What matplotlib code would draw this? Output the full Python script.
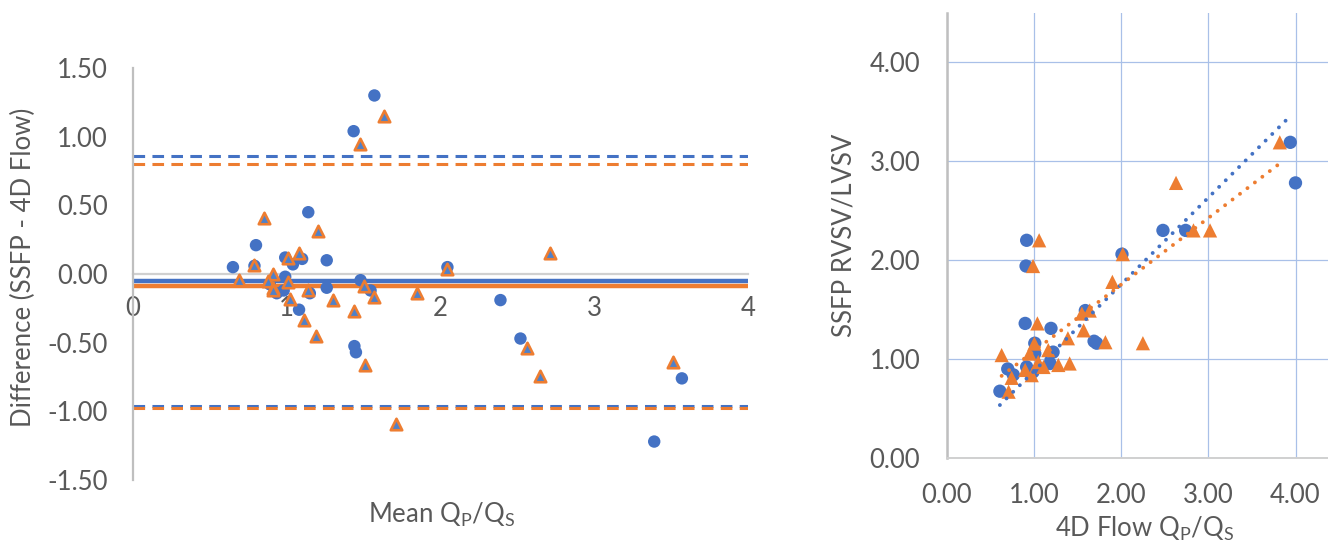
import matplotlib
matplotlib.use("Agg")
import matplotlib.pyplot as plt
import numpy as np

plt.rcParams['font.family'] = ['Lato', 'DejaVu Sans']
plt.rcParams['mathtext.fontset'] = 'custom'
plt.rcParams['mathtext.rm'] = 'Lato'

# ---------------- data: Bland-Altman (left) ----------------
blue_mean = [1.57, 1.435, 1.14, 0.80, 0.65, 0.79, 0.99, 1.04, 1.10, 1.26, 0.99, 0.89, 0.935,
             0.98, 1.15, 1.26, 1.48, 1.545, 1.08, 1.44, 1.45, 2.045, 2.39, 2.52, 3.57, 3.39]
blue_diff = [1.30, 1.04, 0.45, 0.21, 0.05, 0.06, 0.12, 0.07, 0.11, 0.10, -0.02, -0.075, -0.14,
             -0.12, -0.14, -0.10, -0.045, -0.12, -0.26, -0.525, -0.57, 0.05, -0.19, -0.47, -0.76, -1.22]
orange_mean = [1.635, 1.476, 0.85, 1.205, 0.79, 1.01, 1.08, 0.69, 0.91, 0.88, 1.01, 0.91, 0.91,
               1.02, 1.14, 1.30, 1.50, 1.57, 1.845, 1.44, 1.11, 1.19, 1.51, 2.045, 2.71, 2.56,
               2.65, 3.51, 1.71]
orange_diff = [1.15, 0.95, 0.41, 0.31, 0.065, 0.115, 0.15, -0.046, 0.0, -0.05, -0.06, -0.10, -0.12,
               -0.18, -0.12, -0.19, -0.09, -0.17, -0.14, -0.27, -0.335, -0.45, -0.66, 0.04, 0.155,
               -0.54, -0.74, -0.64, -1.09]
blue_bias, blue_upper, blue_lower = -0.05, 0.86, -0.96
orange_bias, orange_upper, orange_lower = -0.09, 0.80, -0.975
left_xticks = [0, 1, 2, 3, 4]
left_yticks = [-1.5, -1.0, -0.5, 0.0, 0.5, 1.0, 1.5]

# ---------------- data: correlation (right) ----------------
blue_4d = [0.917, 0.91, 2.01, 2.48, 2.74, 4.00, 3.94, 0.90, 1.196, 1.59, 1.69, 1.72, 1.01,
           1.01, 1.22, 0.70, 0.764, 0.917, 1.185, 0.99, 0.61]
blue_ssfp = [2.20, 1.94, 2.06, 2.30, 2.30, 2.78, 3.19, 1.36, 1.31, 1.49, 1.18, 1.16, 1.16,
             1.055, 1.07, 0.90, 0.84, 0.92, 0.955, 0.87, 0.675]
orange_4d = [2.63, 3.82, 1.06, 0.99, 2.02, 2.83, 3.02, 1.90, 1.55, 1.64, 1.57, 1.39, 1.82, 2.25,
             1.04, 1.005, 0.63, 0.95, 1.165, 1.05, 1.28, 1.41, 1.11, 0.90, 0.975, 0.745, 0.71]
orange_ssfp = [2.78, 3.19, 2.20, 1.94, 2.06, 2.30, 2.30, 1.78, 1.46, 1.49, 1.29, 1.21, 1.17, 1.16,
               1.36, 1.156, 1.04, 1.055, 1.09, 0.97, 0.94, 0.955, 0.92, 0.89, 0.837, 0.81, 0.67]
blue_fit = (0.877, 0.0)        # slope, intercept
orange_fit = (0.673, 0.406)
blue_fit_range = (0.61, 3.96)
orange_fit_range = (0.63, 3.80)
right_ticks = [0.0, 1.0, 2.0, 3.0, 4.0]

BLUE = '#4472C4'
ORANGE = '#ED7D31'
TRI_FILL = '#4F81C9'
GRAY = '#BFBFBF'
TXT = '#595959'
GRID = '#A9C0E8'
FS = 18.5

fig = plt.figure(figsize=(13.28, 5.44), dpi=100)

# ---------------- left panel ----------------
ax1 = fig.add_axes([133/1328, (544-480)/544, 615/1328, 412/544])
ax1.set_xlim(0, 4)
ax1.set_ylim(-1.5, 1.5)
for s in ['top', 'right']:
    ax1.spines[s].set_visible(False)
ax1.spines['left'].set_color(GRAY)
ax1.spines['left'].set_linewidth(1.6)
ax1.spines['bottom'].set_position(('data', 0))
ax1.spines['bottom'].set_color('#D0D0D0')
ax1.spines['bottom'].set_linewidth(1.6)
ax1.spines['bottom'].set_zorder(1)

ax1.axhline(blue_upper, color=BLUE, lw=2.2, dashes=(3.8, 2.4), zorder=2)
ax1.axhline(orange_upper, color=ORANGE, lw=2.2, dashes=(3.8, 2.4), zorder=2)
ax1.axhline(blue_lower, color=BLUE, lw=2.2, dashes=(3.8, 2.4), zorder=2)
ax1.axhline(orange_lower, color=ORANGE, lw=2.2, dashes=(3.8, 2.4), zorder=2)
ax1.axhline(blue_bias, color=BLUE, lw=3.2, zorder=2)
ax1.axhline(orange_bias, color=ORANGE, lw=3.2, zorder=2)

ax1.scatter(blue_mean, blue_diff, s=80, marker='o', color=BLUE, edgecolors='none', zorder=3)
ax1.scatter(orange_mean, orange_diff, s=68, marker='^', facecolor=TRI_FILL,
            edgecolors=ORANGE, linewidths=1.9, zorder=4)

ax1.set_xticks(left_xticks)
ax1.set_xticklabels([str(v) for v in left_xticks])
ax1.set_yticks(left_yticks)
ax1.set_yticklabels([f'{v:.2f}' for v in left_yticks])
ax1.tick_params(axis='both', length=0, labelsize=FS, colors=TXT)
ax1.tick_params(axis='x', pad=16)
ax1.tick_params(axis='y', pad=18)
ax1.text(0.502, -0.085, r'Mean Q$_\mathregular{P}$/Q$_\mathregular{S}$', transform=ax1.transAxes,
         ha='center', va='center', fontsize=FS, color=TXT)
ax1.text(-0.178, 0.515, 'Difference (SSFP - 4D Flow)', transform=ax1.transAxes, rotation=90,
         ha='center', va='center', fontsize=FS, color=TXT)

# ---------------- right panel ----------------
ax2 = fig.add_axes([946.7/1328, (544-458)/544, 392.4/1328, 445.3/544])
ax2.set_xlim(0, 4.5)
ax2.set_ylim(0, 4.5)
for s in ['top', 'right']:
    ax2.spines[s].set_visible(False)
ax2.spines['left'].set_color(GRAY)
ax2.spines['left'].set_linewidth(1.8)
ax2.spines['bottom'].set_color('#D0D0D0')
ax2.spines['bottom'].set_linewidth(1.4)
ax2.set_xticks(right_ticks)
ax2.set_yticks(right_ticks)
ax2.set_xticklabels([f'{v:.2f}' for v in right_ticks])
ax2.set_yticklabels([f'{v:.2f}' for v in right_ticks])
ax2.grid(True, color=GRID, lw=0.9, zorder=0)
ax2.set_axisbelow(True)
ax2.tick_params(axis='both', length=0, labelsize=FS, colors=TXT)
ax2.tick_params(axis='x', pad=18)
ax2.tick_params(axis='y', pad=19)

ax2.scatter(blue_4d, blue_ssfp, s=92, marker='o', color=BLUE, edgecolors='none', zorder=3)
ax2.scatter(orange_4d, orange_ssfp, s=105, marker='^', color=ORANGE, edgecolors='none', zorder=4)

xb = np.array(blue_fit_range)
ax2.plot(xb, blue_fit[0]*xb + blue_fit[1], color=BLUE, lw=2.8,
         linestyle=(0, (0.01, 2.4)), dash_capstyle='round', zorder=5)
xo = np.array(orange_fit_range)
ax2.plot(xo, orange_fit[0]*xo + orange_fit[1], color=ORANGE, lw=2.8,
         linestyle=(0, (0.01, 2.4)), dash_capstyle='round', zorder=5)

ax2.text(0.505, -0.16, r'4D Flow Q$_\mathregular{P}$/Q$_\mathregular{S}$', transform=ax2.transAxes,
         ha='center', va='center', fontsize=FS, color=TXT)
ax2.text(-0.262, 0.50, 'SSFP RVSV/LVSV', transform=ax2.transAxes, rotation=90,
         ha='center', va='center', fontsize=FS, color=TXT)

fig.savefig('out.png', dpi=100)
